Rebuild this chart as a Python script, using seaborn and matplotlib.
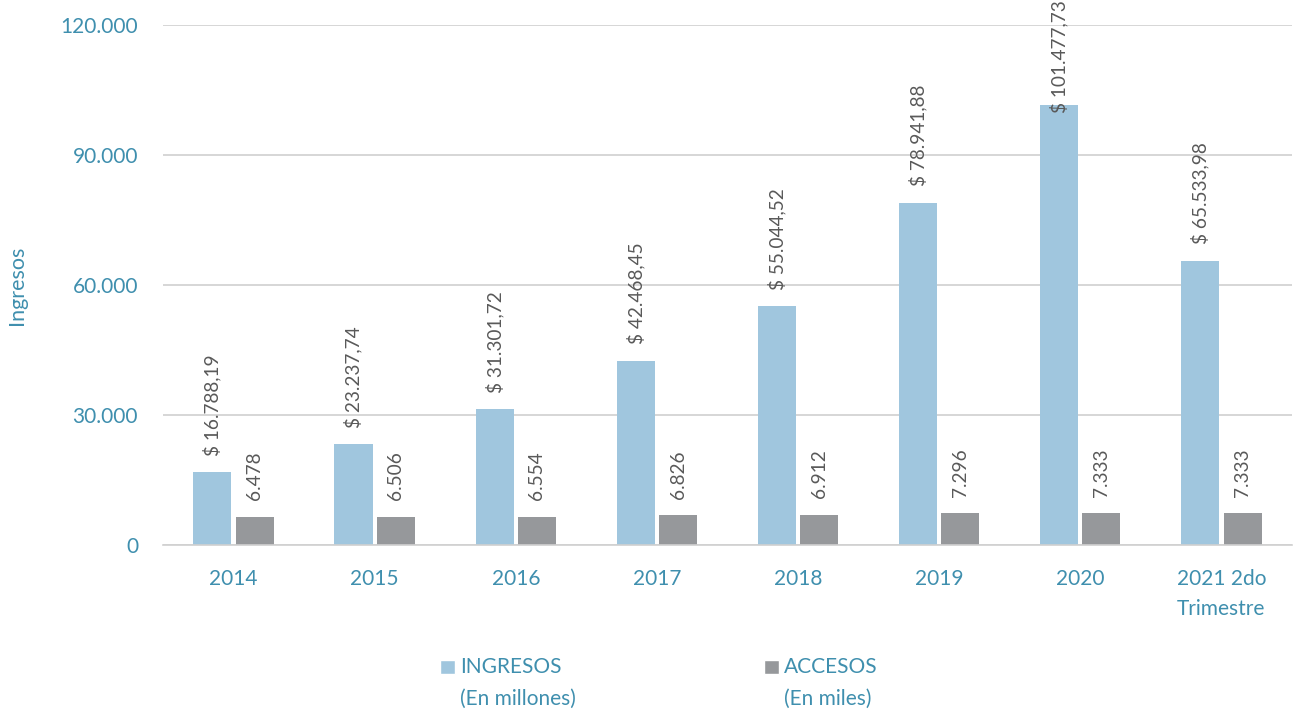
import numpy as np
import pandas as pd
import matplotlib
matplotlib.use("Agg")
import matplotlib.pyplot as plt
import seaborn as sns
from matplotlib.patches import Patch
from matplotlib.ticker import FuncFormatter

# Datos
anios = ["2014", "2015", "2016", "2017", "2018", "2019", "2020", "2021 2do\nTrimestre"]
ingresos = [16788.19, 23237.74, 31301.72, 42468.45, 55044.52, 78941.88, 101477.73, 65533.98]
accesos = [6478, 6506, 6554, 6826, 6912, 7296, 7333, 7333]
series = ["INGRESOS\n(En millones)", "ACCESOS\n(En miles)"]

azul = "#A0C6DE"
gris = "#96989B"
teal = "#3F8FAE"
txt_gris = "#595959"
linea = "#D0D0D0"

df = pd.DataFrame({
    "anio": anios * 2,
    "serie": [series[0]] * len(anios) + [series[1]] * len(anios),
    "valor": ingresos + accesos,
})

sns.set_style("white")
plt.rcParams["font.family"] = ["Lato", "DejaVu Sans"]

fig = plt.figure(figsize=(12.97, 7.10), dpi=100)
ax = fig.add_axes([0.1257, 0.2324, 0.8704, 0.7324])

sns.barplot(data=df, x="anio", y="valor", hue="serie", palette=[azul, gris],
            saturation=1, width=0.6, gap=0.1, linewidth=0, ax=ax, legend=False)

# ejes
ax.set_ylim(0, 120000)
ax.set_yticks(np.arange(0, 120001, 30000))
ax.yaxis.set_major_formatter(FuncFormatter(lambda v, _: f"{v:,.0f}".replace(",", ".")))
ax.set_xlim(-0.5, len(anios) - 0.5)
ax.set_xticks(np.arange(-0.5, len(anios), 1), minor=True)
ax.grid(axis="y", color=linea, lw=1.2)
ax.set_axisbelow(True)
for s in ["top", "right", "left"]:
    ax.spines[s].set_visible(False)
ax.spines["bottom"].set_color(linea)
ax.spines["bottom"].set_linewidth(1.2)

ax.tick_params(axis="y", length=0, pad=18, labelsize=15, labelcolor=teal)
ax.tick_params(axis="x", which="major", length=0, pad=17, labelsize=15, labelcolor=teal)
ax.tick_params(axis="x", which="minor", length=6, width=1.2, color=linea)
for t in ax.get_xticklabels():
    t.set_linespacing(1.65)

ax.set_xlabel("")
ax.set_ylabel("Ingresos", color=teal, fontsize=15.5, labelpad=24)

# etiquetas de datos
def fmt_ing(v):
    s = f"{v:,.2f}".replace(",", "X").replace(".", ",").replace("X", ".")
    return "$ " + s

def fmt_acc(v):
    return f"{v:,.0f}".replace(",", ".")

desp = 12
etiquetas = []
for cont, vals, fmt in zip(ax.containers, [ingresos, accesos], [fmt_ing, fmt_acc]):
    for bar, v in zip(cont, vals):
        t = ax.annotate(fmt(v), (bar.get_x() + bar.get_width() / 2, bar.get_height()),
                        xytext=(0, desp), textcoords="offset points", rotation=90,
                        ha="center", va="bottom", color=txt_gris, fontsize=13.7,
                        annotation_clip=False)
        etiquetas.append(t)

# si una etiqueta se sale de la figura, la bajamos (como hace Excel)
fig.canvas.draw()
r = fig.canvas.get_renderer()
alto = fig.bbox.height
for t in etiquetas:
    bb = t.get_window_extent(r)
    if bb.y1 > alto:
        exceso = (bb.y1 - alto) * 72 / fig.dpi
        t.xyann = (0, desp - exceso)

handles = [Patch(facecolor=azul), Patch(facecolor=gris)]
leg = fig.legend(handles, series, loc="lower center", bbox_to_anchor=(0.508, -0.025),
                 ncol=2, frameon=False, fontsize=15, handlelength=0.72,
                 handleheight=0.72, handletextpad=0.25, columnspacing=9.0,
                 labelcolor=teal)
for t in leg.get_texts():
    t.set_linespacing(1.75)
# el cuadrito va a la altura de la primera linea
for h in leg.legend_handles:
    h.set_y(h.get_y() + 12)

fig.savefig("out.png", dpi=100)
